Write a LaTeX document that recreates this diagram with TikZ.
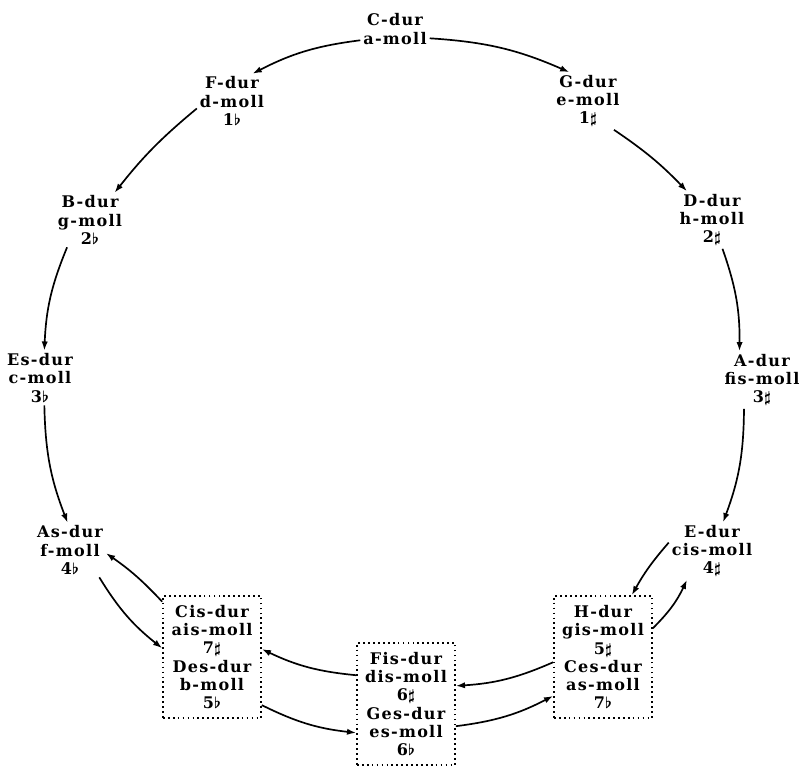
\documentclass[tikz,border=0pt]{standalone}
\usepackage{fontspec}
\setmainfont{DejaVu Serif}[LetterSpace=8]
\usetikzlibrary{arrows.meta}

\tikzset{
  key/.style={align=center, inner sep=2pt, font=\bfseries\boldmath\fontsize{11.4}{12.9}\selectfont},
  grp/.style={key, draw, line width=1.2pt, dash pattern=on 1.2pt off 2.3pt,
    minimum width=2.45cm, minimum height=3.05cm},
  fw/.style={-{Latex[length=6.5pt,width=4.5pt]}, line width=1.2pt},
}

\begin{document}
\begin{tikzpicture}[x=0.025cm, y=-0.025cm]
\useasboundingbox (0,0) rectangle (801,768);

% keys round the circle
\node [key] (C) at (395,29) {C-dur\\a-moll};
\node [key] (F) at (232,101) {F-dur\\d-moll\\1$\flat$};
\node [key] (G) at (588,101) {G-dur\\e-moll\\1$\sharp$};
\node [key] (B) at (90,220) {B-dur\\g-moll\\2$\flat$};
\node [key] (D) at (712,220) {D-dur\\h-moll\\2$\sharp$};
\node [key] (Es) at (40,378) {Es-dur\\c-moll\\3$\flat$};
\node [key] (A) at (762,380) {A-dur\\fis-moll\\3$\sharp$};
\node [key] (As) at (70,550) {As-dur\\f-moll\\4$\flat$};
\node [key] (E) at (712,551) {E-dur\\cis-moll\\4$\sharp$};

% enharmonic pairs
\node [grp] (Des) at (212,657) {Cis-dur\\ais-moll\\7$\sharp$\\Des-dur\\b-moll\\5$\flat$};
\node [grp] (Ges) at (406,704) {Fis-dur\\dis-moll\\6$\sharp$\\Ges-dur\\es-moll\\6$\flat$};
\node [grp] (Ces) at (603,657) {H-dur\\gis-moll\\5$\sharp$\\Ces-dur\\as-moll\\7$\flat$};

% flat side
\draw [fw] (C.198) to [bend right=10] (F.53);
\draw [fw] (F.192) to [bend right=6] (B.48);
\draw [fw] (B.230) to [bend right=10] (Es.81);
\draw [fw] (Es.-81) to [bend right=10] (As.95);
\draw [fw] (As.-43) to [bend right=10] (Des.170);
\draw [fw] (Des.132) to [bend right=6] (As.-5);

% sharp side
\draw [fw] (C.-15) to [bend left=10] (G.123);
\draw [fw] (G.-48) to [bend left=6] (D.131);
\draw [fw] (D.-70) to [bend left=10] (A.128);
\draw [fw] (A.238) to [bend left=10] (E.69);
\draw [fw] (E.169) to [bend right=6] (Ces.65);
\draw [fw] (Ces.30) to [bend right=10] (E.229);

% bottom
\draw [fw] (Ges.150) to [bend left=10] (Des.9);
\draw [fw] (Des.-44) to [bend right=10] (Ges.210);
\draw [fw] (Ges.-24) to [bend right=10] (Ces.218);
\draw [fw] (Ces.186) to [bend left=10] (Ges.20);
\end{tikzpicture}
\end{document}
